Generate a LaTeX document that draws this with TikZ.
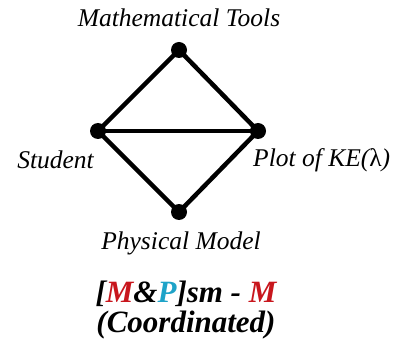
\documentclass[tikz,border=0pt]{standalone}
\usepackage{fontspec}
\setmainfont{Liberation Serif}
\usepackage{xcolor}
\definecolor{redMain}{HTML}{C8161D}
\definecolor{cyanMain}{HTML}{1EA3C8}

\begin{document}
\begin{tikzpicture}[x=1pt,y=-1pt]

            \tikzset{
                vertex/.style={circle, fill=black, inner sep=0pt, minimum size=16pt},
                edge/.style={line width=4.5pt},
                lbl/.style={font=\itshape\fontsize{25.5}{28}\selectfont, inner sep=0pt},
                title/.style={font=\bfseries\itshape\fontsize{31}{34}\selectfont, inner sep=0pt}
            }

            \useasboundingbox (0,0) rectangle (406,347);

            \node[vertex] (top) at (179,50) {};
            \node[vertex] (left) at (98,131) {};
            \node[vertex] (right) at (258,131) {};
            \node[vertex] (bottom) at (179,212) {};

            \draw[edge] (top.center) -- (left.center) -- (bottom.center) -- (right.center) -- cycle;
            \draw[edge] (left.center) -- (right.center);

            \node[lbl] (tools) at (179,18) {Mathematical Tools};
            \node[lbl, anchor=east] (student) at (94,160) {Student};
            \node[lbl, anchor=west] (plot) at (253,160) {Plot of KE({\upshape λ})};
            \node[lbl] (model) at (181,243) {Physical Model};

            \node[title] (name) at (186,294) {[\textcolor{redMain}{M}\&\textcolor{cyanMain}{P}]sm - \textcolor{redMain}{M}};
            \node[title] (kind) at (186,325) {(Coordinated)};

        \end{tikzpicture}
\end{document}
